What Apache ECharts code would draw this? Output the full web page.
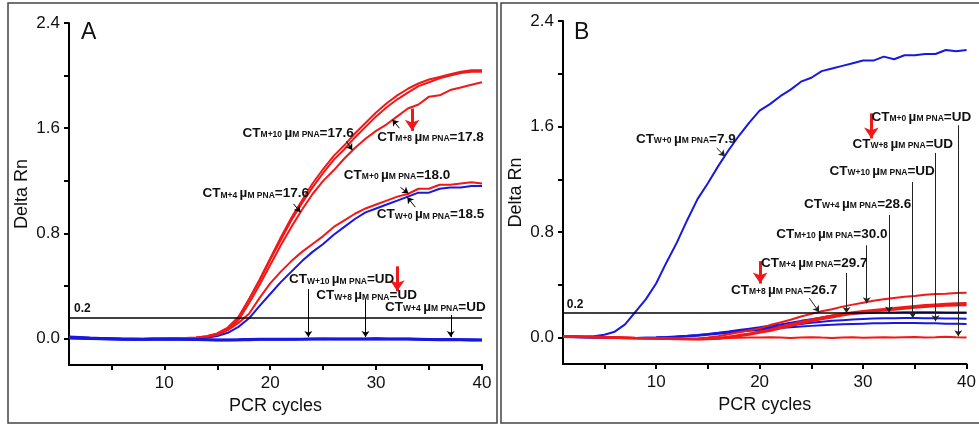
<!DOCTYPE html>
<html><head><meta charset="utf-8">
<script src="https://cdn.jsdelivr.net/npm/echarts@6/dist/echarts.min.js"></script>
<style>html,body{margin:0;padding:0;background:#fff}#c{width:979px;height:425px}</style>
</head><body><div id="c"></div>
<script>
const cycles = [1,2,3,4,5,6,7,8,9,10,11,12,13,14,15,16,17,18,19,20,21,22,23,24,25,26,27,28,29,30,31,32,33,34,35,36,37,38,39,40];
const xTickVals = [5,10,15,20,25,30,35,40];
const xLabelVals = [10,20,30,40];
const yTickVals = [0,0.4,0.8,1.2,1.6,2.0,2.4];
const yLabelVals = [0,0.8,1.6,2.4];

// Panel A
const aM10 = [0.010,0.008,0.005,0.003,0.002,0.000,0.000,-0.002,0.000,0.000,0.002,0.004,
 0.008,0.018,0.038,0.080,0.160,0.300,0.450,0.610,
 0.770,0.920,1.050,1.180,1.290,1.390,1.470,1.560,1.640,1.720,
 1.790,1.850,1.900,1.940,1.970,1.990,2.010,2.030,2.040,2.040];
const aM4 = [0.008,0.006,0.004,0.002,0.001,-0.001,0.000,-0.001,0.001,0.001,0.003,0.005,
 0.009,0.019,0.040,0.085,0.165,0.300,0.440,0.600,
 0.750,0.900,1.030,1.150,1.260,1.360,1.440,1.530,1.610,1.690,
 1.760,1.820,1.870,1.920,1.950,1.980,2.000,2.020,2.030,2.030];
const aM8 = [0.009,0.007,0.004,0.002,0.000,0.000,-0.001,-0.002,0.000,0.001,0.002,0.003,
 0.006,0.015,0.032,0.070,0.140,0.270,0.410,0.560,
 0.710,0.850,0.980,1.100,1.200,1.280,1.370,1.450,1.520,1.580,
 1.630,1.690,1.750,1.780,1.840,1.850,1.890,1.910,1.930,1.950];
const aM0 = [0.008,0.006,0.004,0.002,0.001,0.000,-0.001,-0.001,0.000,0.000,0.001,0.002,
 0.005,0.015,0.030,0.065,0.120,0.190,0.310,0.420,
 0.510,0.590,0.660,0.720,0.780,0.850,0.900,0.950,0.990,1.020,
 1.050,1.080,1.100,1.140,1.140,1.170,1.170,1.180,1.190,1.180];
const aW0 = [0.006,0.004,0.002,0.000,-0.002,-0.003,-0.003,-0.002,-0.001,-0.001,0.000,0.000,
 0.002,0.008,0.020,0.045,0.090,0.155,0.250,0.340,
 0.430,0.510,0.590,0.660,0.720,0.790,0.850,0.910,0.960,0.990,
 1.020,1.050,1.080,1.110,1.110,1.140,1.150,1.150,1.160,1.160];
const aW10 = [0.014,0.011,0.007,0.004,0.001,-0.002,-0.004,-0.004,-0.003,-0.002,
 -0.003,-0.004,-0.005,-0.006,-0.008,-0.008,-0.007,-0.005,-0.003,-0.002,
 -0.002,-0.003,-0.002,-0.001,0.000,0.000,-0.001,0.000,0.000,0.001,
 0.000,0.000,-0.001,-0.002,-0.004,-0.006,-0.005,-0.006,-0.007,-0.008];
const aW8 = [0.008,0.006,0.003,0.000,-0.003,-0.005,-0.006,-0.006,-0.005,-0.004,
 -0.004,-0.005,-0.006,-0.008,-0.009,-0.010,-0.009,-0.007,-0.005,-0.004,
 -0.004,-0.005,-0.004,-0.003,-0.002,-0.002,-0.003,-0.002,-0.002,-0.001,
 -0.002,-0.002,-0.003,-0.004,-0.006,-0.007,-0.007,-0.008,-0.009,-0.010];
const aW4 = [0.004,0.002,0.000,-0.002,-0.004,-0.006,-0.007,-0.007,-0.006,-0.005,
 -0.006,-0.007,-0.008,-0.010,-0.011,-0.011,-0.010,-0.009,-0.007,-0.006,
 -0.006,-0.006,-0.005,-0.004,-0.003,-0.004,-0.005,-0.004,-0.004,-0.003,
 -0.004,-0.004,-0.005,-0.006,-0.008,-0.009,-0.009,-0.010,-0.011,-0.012];

// Panel B
const bW0 = [0.010,0.008,0.006,0.010,0.022,0.045,0.100,0.195,0.290,0.410,
 0.570,0.720,0.890,1.050,1.170,1.300,1.420,1.530,1.630,1.720,
 1.770,1.830,1.880,1.940,1.970,2.020,2.040,2.060,2.080,2.100,
 2.100,2.130,2.110,2.140,2.140,2.150,2.150,2.180,2.170,2.180];
const bM8 = [0.010,0.010,0.008,0.006,0.004,0.002,0.000,-0.002,-0.003,-0.004,
 -0.006,-0.008,-0.009,-0.006,0.000,0.010,0.025,0.040,0.055,0.070,
 0.095,0.115,0.135,0.160,0.180,0.200,0.215,0.235,0.250,0.265,
 0.280,0.290,0.300,0.310,0.315,0.325,0.330,0.332,0.338,0.340];
const bM4 = [0.008,0.008,0.006,0.005,0.003,0.001,-0.001,-0.003,-0.004,-0.005,
 -0.007,-0.009,-0.010,-0.010,-0.008,-0.004,0.005,0.018,0.030,0.045,
 0.060,0.080,0.100,0.118,0.135,0.150,0.165,0.180,0.190,0.200,
 0.208,0.215,0.222,0.230,0.238,0.245,0.250,0.255,0.258,0.260];
const bM10 = [0.006,0.006,0.005,0.004,0.002,0.000,-0.002,-0.004,-0.005,-0.006,
 -0.008,-0.010,-0.011,-0.012,-0.010,-0.006,0.002,0.012,0.024,0.038,
 0.052,0.070,0.090,0.108,0.125,0.140,0.155,0.170,0.182,0.192,
 0.200,0.207,0.214,0.220,0.228,0.234,0.240,0.243,0.246,0.248];
const bM0 = [0.008,0.006,0.004,0.002,0.000,-0.002,-0.004,-0.005,-0.006,-0.006,
 -0.007,-0.008,-0.010,-0.011,-0.009,-0.006,-0.003,-0.001,0.000,0.001,
 0.002,0.000,-0.002,0.001,0.003,0.000,-0.002,0.001,0.002,-0.001,
 0.001,0.003,0.000,0.002,0.004,0.001,0.003,0.006,0.002,0.000];
const bW4 = [0.006,0.005,0.003,0.002,0.000,-0.001,-0.002,-0.002,-0.001,0.000,
 0.004,0.009,0.014,0.020,0.028,0.037,0.047,0.058,0.068,0.078,
 0.090,0.100,0.113,0.127,0.140,0.152,0.165,0.175,0.180,0.185,
 0.188,0.190,0.191,0.192,0.192,0.192,0.192,0.191,0.191,0.190];
const bW10 = [0.005,0.004,0.003,0.001,0.000,-0.001,-0.002,-0.002,-0.001,0.000,
 0.003,0.007,0.012,0.018,0.025,0.033,0.042,0.051,0.060,0.068,
 0.077,0.086,0.095,0.104,0.112,0.120,0.127,0.132,0.137,0.141,
 0.144,0.146,0.147,0.148,0.148,0.147,0.146,0.145,0.144,0.143];
const bW8 = [0.004,0.003,0.002,0.001,-0.001,-0.002,-0.003,-0.003,-0.002,-0.001,
 0.002,0.006,0.010,0.015,0.022,0.029,0.037,0.045,0.052,0.058,
 0.065,0.072,0.078,0.084,0.089,0.094,0.098,0.101,0.104,0.106,
 0.108,0.109,0.110,0.110,0.110,0.109,0.108,0.106,0.105,0.104];

const thresholdA = 0.16, thresholdB = 0.19;

const RED = '#f01818', BLUE = '#1818e0';
const NF = "'Liberation Sans',Arial,sans-serif";
const AF = "'Liberation Sans',Arial,sans-serif";
const rich = {
  b:{fontFamily:NF,fontSize:13.5,fontWeight:'bold',color:'#111',verticalAlign:'bottom',lineHeight:16},
  s:{fontFamily:NF,fontSize:8.5,fontWeight:'bold',color:'#111',verticalAlign:'bottom',lineHeight:16,padding:[0,0,1,0]}
};
function ct(sub,val){return '{b|CT}{s|'+sub+' }{b|\u00b5}{s|M PNA}{b|='+val+'}';}
function pts(arr){return cycles.map((c,i)=>[c,arr[i]]);}

function xAx(gi){return {type:'value',gridIndex:gi,min:1,max:40,
  axisLine:{show:true,onZero:false,lineStyle:{color:'#000',width:2}},
  axisTick:{show:true,length:5,lineStyle:{color:'#000',width:2},customValues:xTickVals},
  axisLabel:{customValues:xLabelVals,fontSize:17,color:'#111',margin:10,fontFamily:AF},
  splitLine:{show:false},
  name:'PCR cycles',nameLocation:'middle',nameGap:31,nameTextStyle:{fontSize:18,color:'#111',fontFamily:AF}};}
function yAx(gi){return {type:'value',gridIndex:gi,min:-0.2,max:2.4,
  axisLine:{show:true,onZero:false,lineStyle:{color:'#000',width:2}},
  axisTick:{show:true,length:5,lineStyle:{color:'#000',width:2},customValues:yTickVals},
  axisLabel:{customValues:yLabelVals,formatter:v=>v.toFixed(1),fontSize:17,color:'#111',margin:9,fontFamily:AF},
  splitLine:{show:false},
  name:'Delta Rn',nameLocation:'middle',nameGap:38,nameTextStyle:{fontSize:18,color:'#111',fontFamily:AF}};}

function line(name,arr,gi,color,w,extra){
  return Object.assign({name,type:'line',xAxisIndex:gi,yAxisIndex:gi,data:pts(arr),showSymbol:false,
    symbol:'none',lineStyle:{color,width:w},itemStyle:{color},silent:true,animation:false},extra||{});
}
function labelsMP(items){
  return {symbol:'circle',symbolSize:1,itemStyle:{color:'rgba(0,0,0,0)'},silent:true,animation:false,
    label:{show:true,position:'inside',rich},
    data:items.map(it=>({coord:it.at,label:{formatter:it.text}}))};
}
function arrowsML(list,color,w,size){
  return {silent:true,animation:false,symbol:['none','arrow'],symbolSize:size,
    label:{show:false},lineStyle:{color,width:w,type:'solid'},itemStyle:{color},emphasis:{disabled:true},
    data:list.map(a=>[{coord:a[0]},{coord:a[1]}])};
}
function thrML(y){
  return {silent:true,animation:false,symbol:['none','none'],label:{show:false},
    lineStyle:{color:'#000',width:1.5,type:'solid'},emphasis:{disabled:true},data:[{yAxis:y}]};
}
const smallLbl = (txt,at)=>({symbol:'circle',symbolSize:1,itemStyle:{color:'rgba(0,0,0,0)'},silent:true,animation:false,
    label:{show:true,position:'inside',formatter:txt,fontSize:12,fontWeight:'bold',color:'#111',fontFamily:AF},
    data:[{coord:at}]});

const annA = [
  {at:[22.64,1.57],text:ct('M+10','17.6')},
  {at:[35.14,1.54],text:ct('M+8','17.8')},
  {at:[31.98,1.25],text:ct('M+0','18.0')},
  {at:[35.14,0.95],text:ct('W+0','18.5')},
  {at:[18.63,1.11],text:ct('M+4','17.6')},
  {at:[26.75,0.456],text:ct('W+10','UD')},
  {at:[29.10,0.334],text:ct('W+8','UD')},
  {at:[35.60,0.25],text:ct('W+4','UD')}
];
const arrA = [
  [[27.2,1.50],[27.75,1.435]],[[32.2,1.60],[31.55,1.665]],[[32.3,1.15],[33.05,1.105]],
  [[33.7,1.00],[32.95,1.075]],[[22.2,1.025],[22.85,0.962]],
  [[23.6,0.377],[23.6,0.012]],[[29.0,0.30],[29.0,0.012]],[[37.05,0.18],[37.05,0.012]]
];
const redA = [[[33.4,1.75],[33.4,1.58]],[[32.0,0.55],[32.0,0.36]]];

const annB = [
  {at:[12.87,1.513],text:ct('W+0','7.9')},
  {at:[35.63,1.677],text:ct('M+0','UD')},
  {at:[33.83,1.475],text:ct('W+8','UD')},
  {at:[31.84,1.267],text:ct('W+10','UD')},
  {at:[29.47,1.02],text:ct('W+4','28.6')},
  {at:[26.98,0.793],text:ct('M+10','30.0')},
  {at:[25.28,0.57],text:ct('M+4','29.7')},
  {at:[22.37,0.364],text:ct('M+8','26.7')}
];
const arrB = [
  [[15.85,1.437],[16.65,1.375]],[[39.2,1.61],[39.2,0.01]],[[37.0,1.40],[37.0,0.124]],
  [[34.8,1.18],[34.8,0.149]],[[32.5,0.93],[32.5,0.19]],[[30.35,0.70],[30.35,0.26]],
  [[28.4,0.49],[28.4,0.187]],[[24.8,0.30],[25.75,0.195]]
];
const redB = [[[30.8,1.70],[30.8,1.51]],[[20.05,0.58],[20.05,0.41]]];

const chart = echarts.init(document.getElementById('c'),null,{renderer:'canvas'});
chart.setOption({
  animation:false,
  backgroundColor:'#fff',
  grid:[{left:69,top:23,width:413,height:342},{left:563,top:21,width:409,height:343}],
  xAxis:[xAx(0),xAx(1)],
  yAxis:[yAx(0),yAx(1)],
  graphic:[
    {type:'rect',shape:{x:8,y:3,width:489,height:420},style:{fill:'none',stroke:'#444',lineWidth:1.5},silent:true},
    {type:'rect',shape:{x:501,y:3,width:500,height:420},style:{fill:'none',stroke:'#444',lineWidth:1.5},silent:true},
    {type:'text',left:81,top:21,style:{text:'A',fontSize:23,fill:'#111',fontFamily:AF},silent:true},
    {type:'text',left:574,top:21,style:{text:'B',fontSize:23,fill:'#111',fontFamily:AF},silent:true}
  ],
  series:[
    line('A W+0',aW0,0,BLUE,2),
    line('A M+0',aM0,0,RED,2),
    line('A M+8',aM8,0,RED,2,{markLine:arrowsML(redA,RED,3,11)}),
    line('A M+4',aM4,0,RED,2),
    line('A M+10',aM10,0,RED,2,{markPoint:labelsMP(annA)}),
    line('A W+10',aW10,0,BLUE,2.5,{markLine:thrML(thresholdA),markPoint:smallLbl('0.2',[2.26,0.228])}),
    line('A W+8',aW8,0,BLUE,2.5),
    line('A W+4',aW4,0,BLUE,2.5,{markLine:arrowsML(arrA,'#000',1,6)}),

    line('B W+0',bW0,1,BLUE,2,{markPoint:labelsMP(annB)}),
    line('B W+4',bW4,1,BLUE,2),
    line('B W+10',bW10,1,BLUE,2),
    line('B W+8',bW8,1,BLUE,2,{markLine:thrML(thresholdB),markPoint:smallLbl('0.2',[2.17,0.25])}),
    line('B M+0',bM0,1,RED,2,{markLine:arrowsML(redB,RED,3,11)}),
    line('B M+10',bM10,1,RED,2.5),
    line('B M+4',bM4,1,RED,2.5),
    line('B M+8',bM8,1,RED,2,{markLine:arrowsML(arrB,'#222',1,6)})
  ]
});
</script></body></html>
